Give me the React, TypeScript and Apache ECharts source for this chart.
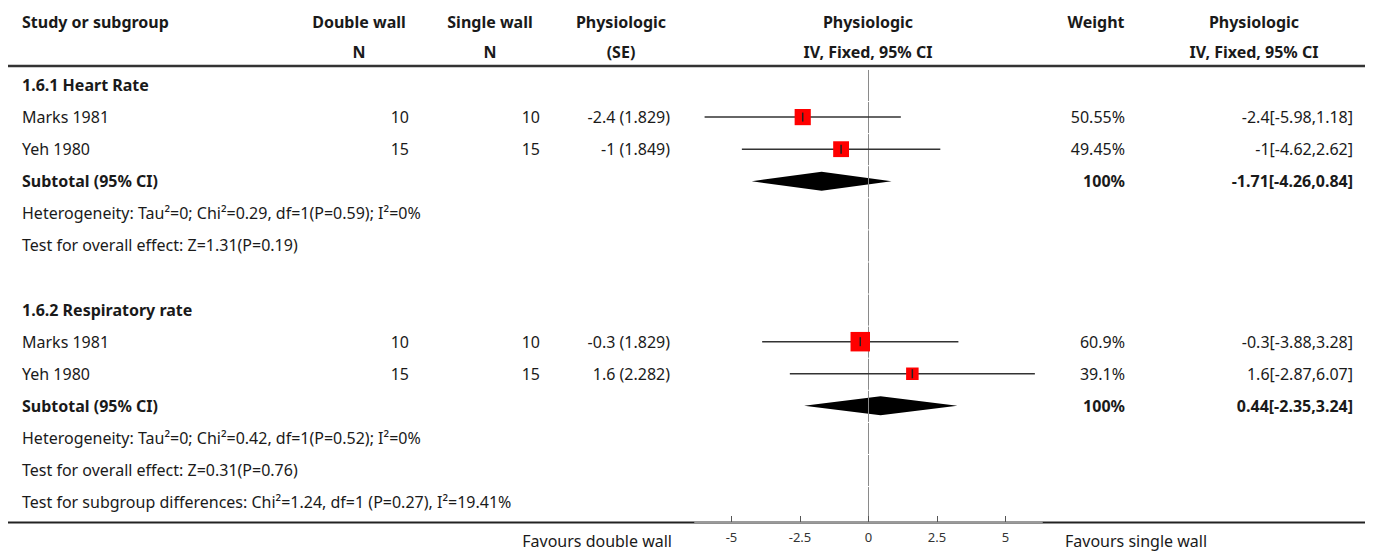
import React, { useEffect, useRef } from "react";
import * as echarts from "echarts";

// ---------- data ----------
const groupLabels = ["1.6.1 Heart Rate", "1.6.2 Respiratory rate"];
const groupRows = [0, 7];

const studyNames = ["Marks 1981", "Yeh 1980", "Marks 1981", "Yeh 1980"];
const studyRows = [1, 2, 8, 9];
const doubleWallN = [10, 15, 10, 15];
const singleWallN = [10, 15, 10, 15];
const estimates = [-2.4, -1, -0.3, 1.6];
const standardErrors = [1.829, 1.849, 1.829, 2.282];
const lowerCI = [-5.98, -4.62, -3.88, -2.87];
const upperCI = [1.18, 2.62, 3.28, 6.07];
const weights = [50.55, 49.45, 60.9, 39.1];

const subtotalRows = [3, 10];
const subtotalEst = [-1.71, 0.44];
const subtotalLow = [-4.26, -2.35];
const subtotalHigh = [0.84, 3.24];
const subtotalWeight = ["100%", "100%"];

const noteTexts = [
  "Heterogeneity: Tau²=0; Chi²=0.29, df=1(P=0.59); I²=0%",
  "Test for overall effect: Z=1.31(P=0.19)",
  "Heterogeneity: Tau²=0; Chi²=0.42, df=1(P=0.52); I²=0%",
  "Test for overall effect: Z=0.31(P=0.76)",
  "Test for subgroup differences: Chi²=1.24, df=1 (P=0.27), I²=19.41%",
];
const noteRows = [4, 5, 11, 12, 13];

const tickValues = [-5, -2.5, 0, 2.5, 5];
const xMin = -6.33;
const xMax = 6.33;
const rowCount = 14;

// ---------- layout / style ----------
const FONT = "'Noto Sans', sans-serif";
const TEXT = "#1a1a1a";
const FS = 16;

export default function App() {
  const ref = useRef<HTMLDivElement>(null);

  useEffect(() => {
    if (!ref.current) return;
    const chart = echarts.init(ref.current, null, { renderer: "svg" });

    const option: any = {
      animation: false,
      grid: { left: 695, width: 347, top: 68, height: 454, containLabel: false },
      xAxis: {
        type: "value",
        position: "bottom",
        min: xMin,
        max: xMax,
        z: 5,
        splitLine: { show: false },
        axisLine: { show: true, onZero: false, lineStyle: { color: "#9a9a9a", width: 2 } },
        axisTick: {
          show: true,
          inside: true,
          length: 6,
          customValues: tickValues,
          lineStyle: { color: "#555", width: 1 },
        },
        axisLabel: {
          customValues: tickValues,
          fontFamily: FONT,
          fontSize: 13,
          color: "#333",
          margin: 8,
        },
      },
      yAxis: {
        type: "value",
        inverse: true,
        min: -0.53,
        max: 13.62,
        show: false,
      },
      series: [
        {
          type: "custom",
          name: "zero",
          silent: true,
          z: 2,
          data: Array.from({ length: rowCount }, (_, i) => [0, i]),
          renderItem: (params: any, api: any) => {
            const r = api.value(1);
            const a = api.coord([0, r - 0.5]);
            const b = api.coord([0, r + 0.5]);
            return {
              type: "line",
              shape: { x1: a[0], y1: a[1] + 1, x2: b[0], y2: r === rowCount - 1 ? b[1] + 4 : b[1] },
              style: { stroke: "#8a8a8a", lineWidth: 1 },
            };
          },
        },
        {
          type: "custom",
          name: "diamonds",
          silent: true,
          z: 1,
          data: subtotalRows.map((r, k) => [subtotalEst[k], r, subtotalLow[k], subtotalHigh[k]]),
          renderItem: (params: any, api: any) => {
            const c = api.coord([api.value(0), api.value(1)]);
            const l = api.coord([api.value(2), api.value(1)]);
            const h = api.coord([api.value(3), api.value(1)]);
            return {
              type: "polygon",
              shape: {
                points: [
                  [l[0], c[1]],
                  [c[0], c[1] - 9.5],
                  [h[0], c[1]],
                  [c[0], c[1] + 9.5],
                ],
              },
              style: { fill: "#000" },
            };
          },
        },
        {
          type: "custom",
          name: "studies",
          silent: true,
          z: 3,
          data: studyRows.map((r, k) => [estimates[k], r, lowerCI[k], upperCI[k], weights[k]]),
          renderItem: (params: any, api: any) => {
            const r = api.value(1);
            const c = api.coord([api.value(0), r]);
            const l = api.coord([api.value(2), r]);
            const h = api.coord([api.value(3), r]);
            const s = api.value(4) * 0.32;
            return {
              type: "group",
              children: [
                {
                  type: "line",
                  shape: { x1: l[0], y1: c[1], x2: h[0], y2: c[1] },
                  style: { stroke: "#333", lineWidth: 1.5 },
                },
                {
                  type: "rect",
                  shape: { x: c[0] - s / 2, y: c[1] - s / 2, width: s, height: s },
                  style: { fill: "#ff0000" },
                },
                {
                  type: "line",
                  shape: { x1: c[0], y1: c[1] - 4.5, x2: c[0], y2: c[1] + 4.5 },
                  style: { stroke: "#222", lineWidth: 1.5 },
                },
              ],
            };
          },
        },
      ],
    };

    chart.setOption(option);

    const rowY = (r: number) => chart.convertToPixel({ yAxisIndex: 0 }, r) as number;

    const txt = (
      text: string,
      x: number,
      y: number,
      align: "left" | "center" | "right",
      bold = false,
      size = FS
    ) => ({
      type: "text",
      x,
      y,
      z: 10,
      silent: true,
      style: {
        text,
        align,
        verticalAlign: "middle",
        fontFamily: FONT,
        fontSize: size,
        fontWeight: bold ? "bold" : "normal",
        fill: TEXT,
      },
    });

    const g: any[] = [];
    // header
    g.push(txt("Study or subgroup", 22, 22, "left", true));
    g.push(txt("Double wall", 359, 22, "center", true));
    g.push(txt("N", 359, 52, "center", true));
    g.push(txt("Single wall", 490, 22, "center", true));
    g.push(txt("N", 490, 52, "center", true));
    g.push(txt("Physiologic", 621, 22, "center", true));
    g.push(txt("(SE)", 621, 52, "center", true));
    g.push(txt("Physiologic", 868, 22, "center", true));
    g.push(txt("IV, Fixed, 95% CI", 868, 52, "center", true));
    g.push(txt("Weight", 1096, 22, "center", true));
    g.push(txt("Physiologic", 1254, 22, "center", true));
    g.push(txt("IV, Fixed, 95% CI", 1254, 52, "center", true));

    // rules
    g.push({
      type: "line",
      z: 0,
      silent: true,
      shape: { x1: 8, y1: 66, x2: 1365, y2: 66 },
      style: { stroke: "#333", lineWidth: 2.5 },
    });
    g.push({
      type: "line",
      z: 0,
      silent: true,
      shape: { x1: 8, y1: 522.5, x2: 1365, y2: 522.5 },
      style: { stroke: "#222", lineWidth: 2 },
    });

    groupLabels.forEach((t, k) => g.push(txt(t, 22, rowY(groupRows[k]), "left", true)));

    studyNames.forEach((name, k) => {
      const y = rowY(studyRows[k]);
      g.push(txt(name, 22, y, "left"));
      g.push(txt(String(doubleWallN[k]), 409, y, "right"));
      g.push(txt(String(singleWallN[k]), 540, y, "right"));
      g.push(txt(`${estimates[k]} (${standardErrors[k]})`, 670, y, "right"));
      g.push(txt(`${weights[k]}%`, 1125, y, "right"));
      g.push(txt(`${estimates[k]}[${lowerCI[k]},${upperCI[k]}]`, 1353, y, "right"));
    });

    subtotalRows.forEach((r, k) => {
      const y = rowY(r);
      g.push(txt("Subtotal (95% CI)", 22, y, "left", true));
      g.push(txt(subtotalWeight[k], 1125, y, "right", true));
      g.push(txt(`${subtotalEst[k]}[${subtotalLow[k]},${subtotalHigh[k]}]`, 1353, y, "right", true));
    });

    noteTexts.forEach((t, k) => g.push(txt(t, 22, rowY(noteRows[k]), "left")));

    g.push(txt("Favours double wall", 672, 541, "right"));
    g.push(txt("Favours single wall", 1065, 541, "left"));

    chart.setOption({ graphic: { elements: g } });

    return () => chart.dispose();
  }, []);

  return (
    <div
      ref={ref}
      style={{ position: "fixed", left: 0, top: 0, width: 1373, height: 552, background: "#fff" }}
    />
  );
}
